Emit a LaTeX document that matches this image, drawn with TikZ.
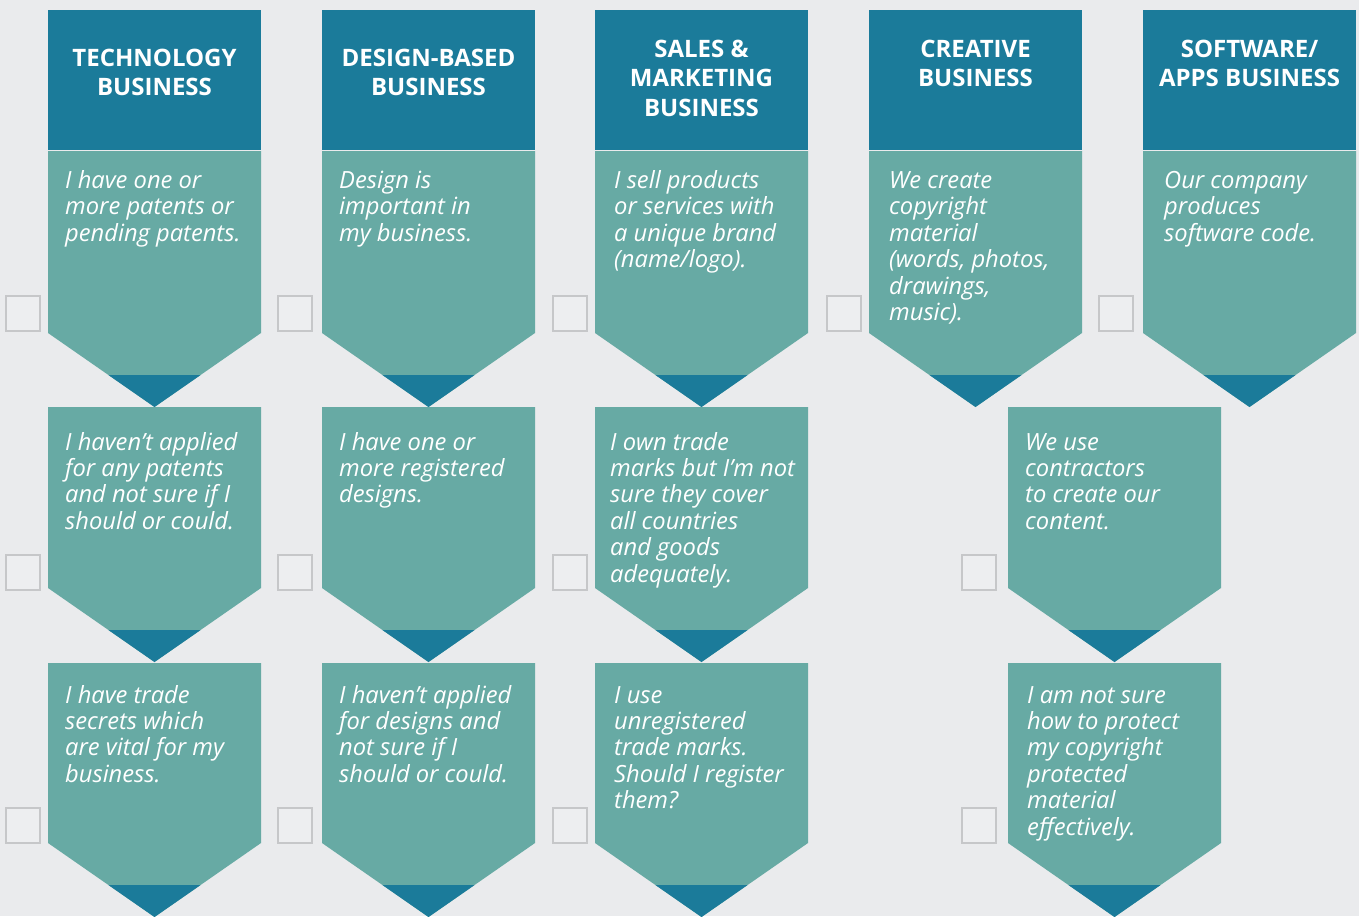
\documentclass[tikz,border=0pt]{standalone}
\usepackage{fontspec}
\setmainfont{Open Sans}
\definecolor{bgc}{HTML}{EAEBED}
\definecolor{headc}{HTML}{1B7B9A}
\definecolor{bodyc}{HTML}{67AAA4}
\definecolor{boxline}{HTML}{C6C7C9}
\definecolor{boxfill}{HTML}{EDEEF0}
\newcommand\chev[3]{%
  \fill[bodyc] (#1,#2) -- (#1+213,#2) -- (#1+213,#3) -- (#1+106.5,#3+74) -- (#1,#3) -- cycle;
  \fill[headc] (#1+60.45,#3+42) -- (#1+152.55,#3+42) -- (#1+106.5,#3+74) -- cycle;}
\begin{document}
\begin{tikzpicture}[x=1pt,y=-1pt,
  headtext/.style={anchor=base, inner sep=0pt, text=white, font=\bfseries\fontsize{24}{29.5}\selectfont},
  bodytext/.style={anchor=base west, inner sep=0pt, text=white, font=\itshape\fontsize{23.7}{26.4}\selectfont},
  cbox/.style={draw=boxline, fill=boxfill, line width=2pt, minimum width=34pt, minimum height=35pt, inner sep=0pt}]
\fill[bgc] (0,0) rectangle (1359,916);
\useasboundingbox (0,0) rectangle (1359,916);
% headers
\foreach \x in {48,322,595,869,1143}{\fill[headc] (\x,10) rectangle (\x+213,149.5);}
% chevrons row 1
\foreach \x in {48,322,595,869,1143}{\chev{\x}{151}{333}}
% row 2
\foreach \x in {48,322,595,1008}{\chev{\x}{407}{588}}
% row 3
\foreach \x in {48,322,595,1008}{\chev{\x}{663}{843}}
% header texts
\node[headtext] (h1) at (154.5,66) {\parbox[t]{210pt}{\centering TECHNOLOGY\\BUSINESS}};
\node[headtext] (h2) at (428.5,66) {\parbox[t]{210pt}{\centering DESIGN-BASED\\BUSINESS}};
\node[headtext] (h3) at (701.5,57) {\parbox[t]{210pt}{\centering SALES \&\\MARKETING\\BUSINESS}};
\node[headtext] (h4) at (975.5,57) {\parbox[t]{210pt}{\centering CREATIVE\\BUSINESS}};
\node[headtext] (h5) at (1249.5,57) {\parbox[t]{210pt}{\centering SOFTWARE/\\APPS BUSINESS}};
% body texts row 1
\node[bodytext] (t11) at (65,188.5) {\parbox[t]{195pt}{\raggedright I have one or\\more patents or\\pending patents.}};
\node[bodytext] (t21) at (339,188.5) {\parbox[t]{195pt}{\raggedright Design is\\important in\\my business.}};
\node[bodytext] (t31) at (614,188.5) {\parbox[t]{195pt}{\raggedright I sell products\\or services with\\a unique brand\\(name/logo).}};
\node[bodytext] (t41) at (889,188.5) {\parbox[t]{195pt}{\raggedright We create\\copyright\\material\\(words, photos,\\drawings,\\music).}};
\node[bodytext] (t51) at (1164,188.5) {\parbox[t]{195pt}{\raggedright Our company\\produces\\software code.}};
% row 2
\node[bodytext] (t12) at (65,450) {\parbox[t]{195pt}{\raggedright I haven’t applied\\for any patents\\and not sure if I\\should or could.}};
\node[bodytext] (t22) at (339,450) {\parbox[t]{195pt}{\raggedright I have one or\\more registered\\designs.}};
\node[bodytext] (t32) at (610,450) {\parbox[t]{195pt}{\raggedright I own trade\\marks but I’m not\\sure they cover\\all countries\\and goods\\adequately.}};
\node[bodytext] (t42) at (1025,450) {\parbox[t]{195pt}{\raggedright We use\\contractors\\to create our\\content.}};
% row 3
\node[bodytext] (t13) at (65,703) {\parbox[t]{195pt}{\raggedright I have trade\\secrets which\\are vital for my\\business.}};
\node[bodytext] (t23) at (339,703) {\parbox[t]{195pt}{\raggedright I haven’t applied\\for designs and\\not sure if I\\should or could.}};
\node[bodytext] (t33) at (614,703) {\parbox[t]{195pt}{\raggedright I use\\unregistered\\trade marks.\\Should I register\\them?}};
\node[bodytext] (t43) at (1027,703) {\parbox[t]{195pt}{\raggedright I am not sure\\how to protect\\my copyright\\protected\\material\\effectively.}};
% checkboxes
\node[cbox] (c11) at (22.5,313.5) {};
\node[cbox] (c21) at (295,313.5) {};
\node[cbox] (c31) at (569.5,313.5) {};
\node[cbox] (c41) at (843.5,313.5) {};
\node[cbox] (c51) at (1115.5,313.5) {};
\node[cbox] (c12) at (22.5,572) {};
\node[cbox] (c22) at (295,572) {};
\node[cbox] (c32) at (569.5,572) {};
\node[cbox] (c42) at (979,572) {};
\node[cbox] (c13) at (22.5,825) {};
\node[cbox] (c23) at (295,825) {};
\node[cbox] (c33) at (569.5,825) {};
\node[cbox] (c43) at (979,825) {};
\end{tikzpicture}
\end{document}
